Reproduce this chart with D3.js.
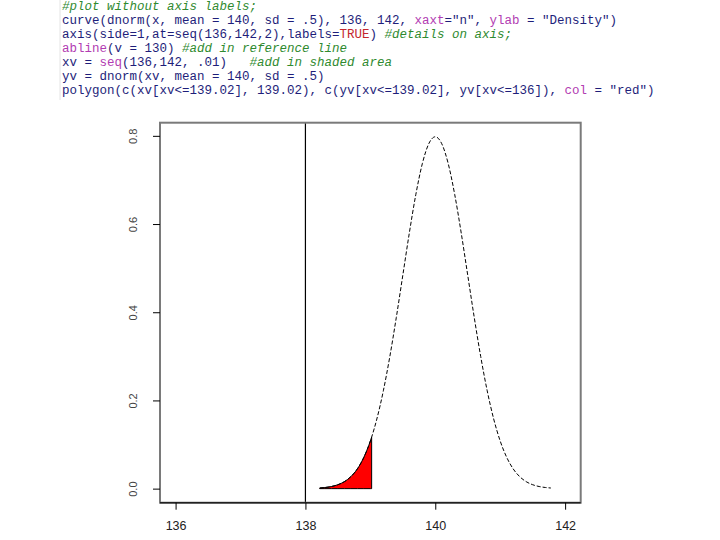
<!DOCTYPE html>
<html>
<head>
<meta charset="utf-8">
<script src="https://cdn.jsdelivr.net/npm/d3@7"></script>
<style>
  body { margin: 0; background: #fff; }
  svg { display: block; }
</style>
</head>
<body>
<script>
// density curve (x, height)
const xs = [138.22, 138.3, 138.4, 138.5, 138.6, 138.7, 138.8, 138.9, 139.0, 139.02,
  139.1, 139.2, 139.3, 139.4, 139.5, 139.6, 139.7, 139.8, 139.9, 140.0,
  140.1, 140.2, 140.3, 140.4, 140.5, 140.6, 140.7, 140.8, 140.9, 141.0,
  141.1, 141.2, 141.3, 141.4, 141.5, 141.6, 141.7, 141.78];
const ys = [0.0014, 0.0025, 0.0048, 0.0089, 0.0158, 0.0272, 0.0448, 0.0710, 0.1080, 0.1169,
  0.1579, 0.2218, 0.2995, 0.3884, 0.4839, 0.5794, 0.6665, 0.7366, 0.7821, 0.7979,
  0.7821, 0.7366, 0.6665, 0.5794, 0.4839, 0.3884, 0.2995, 0.2218, 0.1579, 0.1080,
  0.0710, 0.0448, 0.0272, 0.0158, 0.0089, 0.0048, 0.0025, 0.0014];
const shadeUpTo = 139.02;
const refLine = 138;
const xTicks = [136, 138, 140, 142];
const yTicks = [0.0, 0.2, 0.4, 0.6, 0.8];

// the R code shown above the plot: [text, kind]
const codeLines = [
  [["#plot without axis labels;", "cm"]],
  [["curve(dnorm(x, mean = 140, sd = .5), 136, 142, ", "c"], ["xaxt", "kw"], ["=\"n\", ", "c"], ["ylab", "kw"], [" = \"Density\")", "c"]],
  [["axis(side=1,at=seq(136,142,2),labels=", "c"], ["TRUE", "tr"], [") ", "c"], ["#details on axis;", "cm"]],
  [["abline", "kw"], ["(v = 130) ", "c"], ["#add in reference line", "cm"]],
  [["xv = ", "c"], ["seq", "kw"], ["(136,142, .01)   ", "c"], ["#add in shaded area", "cm"]],
  [["yv = dnorm(xv, mean = 140, sd = .5)", "c"]],
  [["polygon(c(xv[xv<=139.02], 139.02), c(yv[xv<=139.02], yv[xv<=136]), ", "c"], ["col", "kw"], [" = \"red\")", "c"]]
];
const codeColor = {c: "#1e1e7a", cm: "#2f8a2f", kw: "#b23cb2", tr: "#c4262c"};

const width = 720, height = 540;
const svg = d3.select("body").append("svg")
  .attr("width", width)
  .attr("height", height);

// code block
svg.append("line")
  .attr("x1", 60).attr("x2", 60).attr("y1", 0).attr("y2", 100)
  .attr("stroke", "#e4e4e4");

const code = svg.append("g")
  .attr("font-family", "'Liberation Mono', 'DejaVu Sans Mono', monospace")
  .attr("font-size", 12.5);
codeLines.forEach((parts, i) => {
  const t = code.append("text")
    .attr("x", 62)
    .attr("y", 7 + i * 14)
    .attr("dominant-baseline", "middle")
    .attr("xml:space", "preserve");
  parts.forEach(p => {
    t.append("tspan")
      .attr("fill", codeColor[p[1]])
      .attr("font-style", p[1] === "cm" ? "italic" : null)
      .text(p[0]);
  });
});

// plot region (R adds 4% on each side)
const x = d3.scaleLinear().domain([135.76, 142.24]).range([160, 580.7]);
const y = d3.scaleLinear().domain([-0.0319, 0.8298]).range([502.7, 122.7]);

const pts = xs.map((v, i) => ({x: v, y: ys[i]}));

// shaded area
const shade = pts.filter(d => d.x <= shadeUpTo);
svg.append("path")
  .datum(shade)
  .attr("d", d3.area()
    .x(d => x(d.x))
    .y0(y(0))
    .y1(d => y(d.y))
    .curve(d3.curveMonotoneX))
  .attr("fill", "#ff0000")
  .attr("stroke", "#000")
  .attr("stroke-width", 1);

// density curve
svg.append("path")
  .datum(pts)
  .attr("d", d3.line()
    .x(d => x(d.x))
    .y(d => y(d.y))
    .curve(d3.curveMonotoneX))
  .attr("fill", "none")
  .attr("stroke", "#000")
  .attr("stroke-width", 1)
  .attr("stroke-dasharray", "4,2");

// reference line
svg.append("line")
  .attr("x1", x(refLine)).attr("x2", x(refLine))
  .attr("y1", y.range()[1]).attr("y2", y.range()[0])
  .attr("stroke", "#000")
  .attr("stroke-width", 1.2);

// box
svg.append("rect")
  .attr("x", 160).attr("y", 122.7)
  .attr("width", 580.7 - 160).attr("height", 502.7 - 122.7)
  .attr("fill", "none")
  .attr("stroke", "#7a7a7a")
  .attr("stroke-width", 2);
svg.append("line")
  .attr("x1", 160).attr("x2", 580.7)
  .attr("y1", 502.7).attr("y2", 502.7)
  .attr("stroke", "#222").attr("stroke-width", 1.5);

// x axis
const xAxis = svg.append("g")
  .attr("transform", "translate(0,502.7)")
  .call(d3.axisBottom(x).tickValues(xTicks).tickFormat(d3.format("d"))
    .tickSize(7).tickPadding(11).tickSizeOuter(0));
xAxis.select(".domain").remove();
xAxis.selectAll("text")
  .attr("font-family", "'Liberation Sans', Arial, sans-serif")
  .attr("font-size", 12.5)
  .attr("fill", "#222");

// y axis
const yAxis = svg.append("g")
  .attr("transform", "translate(160,0)")
  .call(d3.axisLeft(y).tickValues(yTicks).tickFormat(d3.format(".1f")).tickSize(7).tickSizeOuter(0));
yAxis.select(".domain").remove();
yAxis.selectAll("text")
  .attr("font-family", "'Liberation Sans', Arial, sans-serif")
  .attr("font-size", 11)
  .attr("fill", "#444")
  .attr("transform", "rotate(-90, -27, 0)")
  .attr("x", -27)
  .attr("dy", "0.35em")
  .attr("text-anchor", "middle");
</script>
</body>
</html>
